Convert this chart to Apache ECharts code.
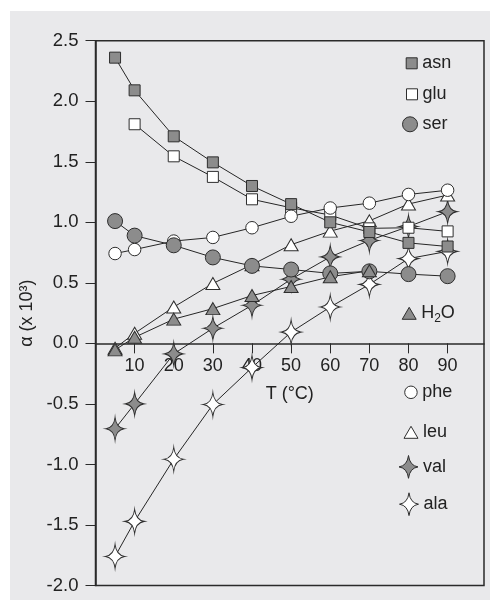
<!DOCTYPE html>
<html>
<head>
<meta charset="utf-8">
<script src="https://cdn.jsdelivr.net/npm/echarts@6/dist/echarts.min.js"></script>
<style>
  html, body { margin: 0; padding: 0; background: #ffffff; }
  #wrap { position: relative; width: 490px; height: 600px; background: #ffffff; overflow: hidden; }
  #chart { position: absolute; left: 10px; top: 11px; width: 480px; height: 589px; }
</style>
</head>
<body>
<div id="wrap"><div id="chart"></div></div>
<script>
// ---- data ----
const temps = [5, 10, 20, 30, 40, 50, 60, 70, 80, 90];
const xTickValues = [10, 20, 30, 40, 50, 60, 70, 80, 90];
const asn = [2.36, 2.09, 1.71, 1.495, 1.30, 1.15, 1.00, 0.92, 0.83, 0.80];
const glu = [null, 1.81, 1.545, 1.375, 1.19, 1.12, 1.06, 0.95, 0.955, 0.925];
const ser = [1.01, 0.89, 0.81, 0.71, 0.64, 0.61, 0.578, 0.595, 0.572, 0.555];
const h2o = [-0.054, 0.05, 0.20, 0.287, 0.395, 0.47, 0.55, 0.60, null, null];
const phe = [0.742, 0.775, 0.845, 0.875, 0.955, 1.05, 1.118, 1.158, 1.23, 1.265];
const leu = [-0.04, 0.083, 0.30, 0.495, 0.65, 0.815, 0.927, 1.012, 1.151, 1.225];
const val = [-0.705, -0.50, -0.087, 0.125, 0.315, 0.53, 0.714, 0.85, 0.965, 1.088];
const ala = [-1.76, -1.47, -0.957, -0.505, -0.20, 0.093, 0.30, 0.487, 0.70, 0.76];
const xName = 'T (\u00B0C)';
const yName = '\u03B1 (x 10\u00B3)';

// ---- styles ----
const FONT = 'Liberation Sans, Arial, sans-serif';
const GRAY = '#8c8c8c';
const WHITE = '#ffffff';
const EDGE = '#2e2e2e';
const LINE = '#262626';
const AX = '#2a2a2a';
const STAR = 'path://M0,-12 Q1.3,-1.3 10,0 Q1.3,1.3 0,12 Q-1.3,1.3 -10,0 Q-1.3,-1.3 0,-12 Z';

// plot geometry (chart-div coordinates)
const CH = 589, GL = 85.5, GR = 6, GT = 29.7, GB = 14.5;
const Y_MIN = -2.0, Y_MAX = 2.5;
const plotH = CH - GT - GB;
const zeroY = GT + plotH * (Y_MAX / (Y_MAX - Y_MIN));

function pairs(ys) {
  const out = [];
  ys.forEach((y, i) => { if (y !== null) out.push([temps[i], y]); });
  return out;
}

const defs = [
  { name: 'val', data: val, symbol: STAR, size: [18, 23], fill: GRAY, lw: 19, lh: 25, cy: 455, tx: 412.5 },
  { name: 'ala', data: ala, symbol: STAR, size: [19, 24], fill: WHITE, lw: 19, lh: 25, cy: 492.3, tx: 413 },
  { name: 'leu', data: leu, symbol: 'triangle', size: [14, 12], fill: WHITE, lw: 14, lh: 12, cy: 421.3, tx: 412.5 },
  { name: 'glu', data: glu, symbol: 'rect', size: [11, 11], fill: WHITE, lw: 11, lh: 11, cy: 83.3, tx: 412 },
  { name: 'asn', data: asn, symbol: 'rect', size: [11, 11], fill: GRAY, lw: 11, lh: 11, cy: 52.3, tx: 411.7 },
  { name: 'phe', data: phe, symbol: 'circle', size: 12.5, fill: WHITE, lw: 12.5, lh: 12.5, cy: 381.3, tx: 411.7 },
  { name: 'ser', data: ser, symbol: 'circle', size: 15, fill: GRAY, lw: 15, lh: 15, cy: 113.3, tx: 412 },
  { name: 'H2O', data: h2o, symbol: 'triangle', size: [14, 12], fill: GRAY, lw: 14, lh: 12, cy: 302.3, tx: 410.7 }
];

const series = defs.map(d => ({
  name: d.name,
  type: 'line',
  xAxisIndex: 0,
  yAxisIndex: 0,
  data: pairs(d.data),
  symbol: d.symbol,
  symbolSize: d.size,
  showAllSymbol: true,
  animation: false,
  lineStyle: { color: LINE, width: 1 },
  itemStyle: { color: d.fill, borderColor: EDGE, borderWidth: 1 },
  emphasis: { disabled: true }
}));

const ROWH = 22;
const legends = defs.map(d => ({
  show: true,
  orient: 'horizontal',
  left: d.tx - d.lw - 5,
  top: d.cy - ROWH / 2,
  padding: 0,
  itemWidth: d.lw,
  itemHeight: d.lh,
  selectedMode: false,
  data: [{
    name: d.name,
    icon: d.symbol,
    itemStyle: { color: d.fill, borderColor: EDGE, borderWidth: 1 }
  }],
  formatter: n => n === 'H2O' ? 'H{sub|2}O' : n,
  textStyle: {
    fontFamily: FONT,
    fontSize: 18,
    color: '#222',
    lineHeight: ROWH,
    rich: {
      sub: { fontSize: 12, lineHeight: ROWH, verticalAlign: 'bottom', color: '#222', fontFamily: FONT }
    }
  }
}));

const chart = echarts.init(document.getElementById('chart'), null, { renderer: 'canvas' });
chart.setOption({
  backgroundColor: '#e9e9eb',
  animation: false,
  textStyle: { fontFamily: FONT },
  grid: [
    {
      left: GL, right: GR, top: GT, bottom: GB,
      outerBoundsMode: 'none', containLabel: false,
      show: true, borderColor: AX, borderWidth: 1.5, backgroundColor: 'transparent'
    },
    {
      left: GL, right: GR, top: GT, bottom: CH - zeroY,
      outerBoundsMode: 'none', containLabel: false,
      show: false
    }
  ],
  legend: legends,
  xAxis: [
    {
      gridIndex: 0,
      type: 'value', min: 0, max: 99.3,
      axisLine: { show: false }, axisTick: { show: false }, axisLabel: { show: false },
      splitLine: { show: false }
    },
    {
      gridIndex: 1,
      type: 'value', min: 0, max: 99.3, interval: 10,
      position: 'bottom',
      name: xName,
      nameLocation: 'middle',
      nameGap: 42,
      nameTextStyle: { fontSize: 18, color: '#222', fontFamily: FONT },
      axisLine: { show: true, onZero: false, lineStyle: { color: AX, width: 1.5 } },
      axisTick: { show: true, length: 10, inside: false, customValues: xTickValues, lineStyle: { color: AX, width: 1 } },
      axisLabel: { show: true, customValues: xTickValues, margin: 14, fontSize: 18, color: '#222', fontFamily: FONT },
      splitLine: { show: false }
    }
  ],
  yAxis: [
    {
      gridIndex: 0,
      type: 'value', min: Y_MIN, max: Y_MAX, interval: 0.5,
      name: yName,
      nameLocation: 'middle',
      nameGap: 50,
      nameTextStyle: { fontSize: 18, color: '#222', fontFamily: FONT },
      axisLine: { show: true, onZero: false, lineStyle: { color: AX, width: 1.5 } },
      axisTick: { show: true, length: 10, inside: false, lineStyle: { color: AX, width: 1 } },
      axisLabel: { margin: 17, fontSize: 18.5, color: '#222', fontFamily: FONT, formatter: v => v.toFixed(1) },
      splitLine: { show: false }
    },
    {
      gridIndex: 1,
      type: 'value', min: 0, max: 1, show: false
    }
  ],
  series: series
});
</script>
</body>
</html>
